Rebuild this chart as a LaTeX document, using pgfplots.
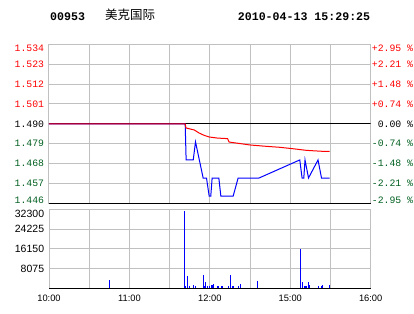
\documentclass[border=0pt]{standalone}
\usepackage{pgfplots}
\pgfplotsset{compat=1.18}
\usepackage{fontspec}
\setmainfont{Liberation Sans}
\newfontfamily\pmono{Liberation Mono}
\newfontfamily\psans{Liberation Sans}
\newfontfamily\cjk{Noto Sans CJK SC}
\definecolor{upred}{RGB}{255,0,0}
\definecolor{dngreen}{RGB}{0,96,32}
\definecolor{gridgray}{RGB}{192,192,192}
\definecolor{lineblue}{RGB}{0,0,255}
\newcommand{\pf}{\pmono\fontsize{9.8bp}{10bp}\selectfont}
\newcommand{\vf}{\psans\fontsize{10.5bp}{11bp}\selectfont}
\newcommand{\tf}{\psans\fontsize{9.3bp}{10bp}\selectfont}
\begin{document}
\begin{tikzpicture}
\useasboundingbox (0,0) rectangle (414bp,314bp);
\fill[white] (0,0) rectangle (414bp,314bp);
\node[anchor=base west, inner sep=0pt] at (50bp,293.5bp) {\pmono\bfseries\fontsize{11.6bp}{12bp}\selectfont 00953};
\node[anchor=base west, inner sep=0pt] at (105bp,294bp) {\cjk\fontsize{12.5bp}{13bp}\selectfont 美克国际};
\node[anchor=base west, inner sep=0pt] at (237.7bp,293.5bp) {\pmono\bfseries\fontsize{11.6bp}{12bp}\selectfont 2010-04-13 15:29:25};

\begin{axis}[at={(49bp,110.7bp)}, anchor=south west, scale only axis,
  width=321.7bp, height=159bp,
  xmin=0, xmax=240, ymin=1.446, ymax=1.534,
  xtick={0,30,...,240}, xticklabels={},
  ytick={1.446,1.457,1.468,1.479,1.490,1.501,1.512,1.523,1.534},
  yticklabels={{},\textcolor{dngreen}{1.457},\textcolor{dngreen}{1.468},\textcolor{dngreen}{1.479},1.490,\textcolor{upred}{1.501},\textcolor{upred}{1.512},\textcolor{upred}{1.523},{}},
  yticklabel style={font=\pf, anchor=east, inner sep=0pt, xshift=-4.7bp},
  major tick length=0pt,
  grid=major, major grid style={gridgray, line width=1bp},
  axis line style={gridgray, line width=1bp},
  scaled y ticks=false,
  after end axis/.code={
    \draw[black, line width=1.3bp] (rel axis cs:0,0) -- (rel axis cs:1,0);
    \node[font=\pf, text=upred, anchor=north east, inner sep=0pt] at ([xshift=-4.7bp]rel axis cs:0,1) {1.534};
    \node[font=\pf, text=dngreen, anchor=south east, inner sep=0pt] at ([xshift=-4.7bp]rel axis cs:0,0) {1.446};
    \node[font=\pf, text=upred, anchor=north west, inner sep=0pt] at ([xshift=1bp]rel axis cs:1,1) {+2.95 \%};
    \node[font=\pf, text=upred, anchor=west, inner sep=0pt] at ([xshift=1bp]axis cs:240,1.523) {+2.21 \%};
    \node[font=\pf, text=upred, anchor=west, inner sep=0pt] at ([xshift=1bp]axis cs:240,1.512) {+1.48 \%};
    \node[font=\pf, text=upred, anchor=west, inner sep=0pt] at ([xshift=1bp]axis cs:240,1.501) {+0.74 \%};
    \node[font=\pf, text=black, anchor=west, inner sep=0pt] at ([xshift=1bp]axis cs:240,1.490) {\phantom{+}0.00 \%};
    \node[font=\pf, text=dngreen, anchor=west, inner sep=0pt] at ([xshift=1bp]axis cs:240,1.479) {-0.74 \%};
    \node[font=\pf, text=dngreen, anchor=west, inner sep=0pt] at ([xshift=1bp]axis cs:240,1.468) {-1.48 \%};
    \node[font=\pf, text=dngreen, anchor=west, inner sep=0pt] at ([xshift=1bp]axis cs:240,1.457) {-2.21 \%};
    \node[font=\pf, text=dngreen, anchor=south west, inner sep=0pt] at ([xshift=1bp]rel axis cs:1,0) {-2.95 \%};
  },
]
\addplot[black, line width=1bp] coordinates {(0,1.49) (240,1.49)};
\addplot[lineblue, line width=1bp] coordinates {
(0,1.49) (101.6,1.49) (102.3,1.47) (107.6,1.47) (109.3,1.48) (115,1.46) (117.5,1.46)
(119.5,1.45) (120.7,1.45) (121.7,1.46) (126.7,1.46) (128.2,1.45) (137.4,1.45) (141.1,1.46)
(156.7,1.46) (187.1,1.47) (188.8,1.46) (190.1,1.46) (191,1.47) (193.6,1.46) (200.7,1.47)
(203.3,1.46) (209.4,1.46)};
\addplot[upred, line width=1bp] coordinates {
(0,1.49) (101.6,1.49) (102.2,1.4877) (108.3,1.4866) (112.0,1.4849) (115.8,1.4836)
(119.5,1.4827) (125.7,1.4821) (133.2,1.4818) (134.4,1.4799) (149.8,1.4783) (160.9,1.4776)
(172.1,1.4770) (182.1,1.4762) (192.1,1.4753) (203.3,1.4748) (209.4,1.4748)};
\end{axis}

\begin{axis}[at={(49bp,25.7bp)}, anchor=south west, scale only axis,
  width=321.7bp, height=79bp,
  xmin=0, xmax=240, ymin=0, ymax=32300,
  xtick={0,30,...,240}, xticklabels={10:00,{},11:00,{},12:00,{},15:00,{},16:00},
  xticklabel style={font=\tf, anchor=north, inner sep=0pt, yshift=-6.7bp},
  ytick={0,8075,16150,24225,32300}, yticklabels={{},8075,16150,24225,{}},
  yticklabel style={font=\vf, anchor=east, inner sep=0pt, xshift=-4.7bp},
  major tick length=0pt,
  grid=major, major grid style={gridgray, line width=1bp},
  axis line style={gridgray, line width=1bp},
  scaled y ticks=false,
  after end axis/.code={
    \draw[black, line width=1bp] (rel axis cs:0,0) -- (rel axis cs:1,0);
    \node[font=\vf, anchor=north east, inner sep=0pt] at ([xshift=-4.7bp,yshift=-0.7bp]rel axis cs:0,1) {32300};
  },
]
\addplot[ycomb, lineblue, line width=1bp] coordinates {
(45.0,3400) (100.9,31600) (101.7,820) (103.2,4900) (104.7,820) (107.6,1230) (109.1,820)
(115.1,5300) (115.9,820) (116.6,2450) (118.1,820) (119.6,820) (121.1,1230) (121.8,1230)
(122.6,1640) (125.6,820) (126.3,820) (128.5,820) (129.3,820) (133.8,820) (135.2,5300)
(136.7,820) (137.5,820) (141.2,820) (142.7,1640) (155.4,2860) (187.5,16000) (189.0,2450)
(190.5,820) (191.2,820) (191.9,820) (193.4,2450) (194.2,1230) (200.9,820) (203.1,820)
(203.9,1230) (209.1,1230)};
\end{axis}
\end{tikzpicture}
\end{document}
